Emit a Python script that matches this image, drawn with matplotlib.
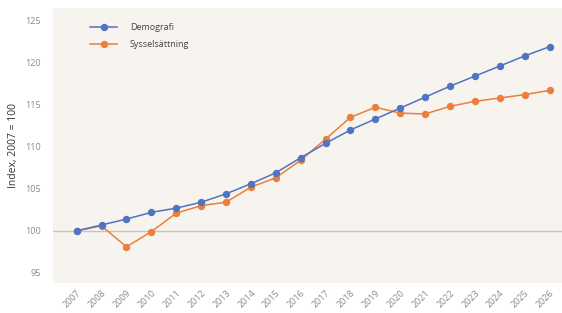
import matplotlib
matplotlib.use('Agg')
import matplotlib.pyplot as plt

years = list(range(2007, 2027))
demografi = [100.0, 100.7, 101.4, 102.2, 102.7, 103.4, 104.4, 105.6, 106.9, 108.7,
             110.4, 112.0, 113.3, 114.6, 115.9, 117.2, 118.4, 119.6, 120.8, 121.9]
syssel = [100.0, 100.6, 98.1, 99.9, 102.1, 103.0, 103.4, 105.2, 106.3, 108.4,
          110.9, 113.5, 114.7, 114.0, 113.9, 114.8, 115.4, 115.8, 116.2, 116.7]
yticks = [95, 100, 105, 110, 115, 120, 125]

plt.rcParams['font.family'] = ['Open Sans', 'DejaVu Sans']

fig = plt.figure(figsize=(5.62, 3.13), dpi=100)
ax = fig.add_axes([53 / 562, 30 / 313, 509 / 562, 275 / 313])
ax.set_facecolor('#f7f3ef')
for s in ax.spines.values():
    s.set_visible(False)

ax.axhline(100, color='#c9c4c0', lw=1.0, zorder=1)
ax.plot(years, demografi, color='#4f74c2', marker='o', ms=4.3, lw=1.1, label='Demografi', zorder=3)
ax.plot(years, syssel, color='#ec7f3a', marker='o', ms=4.3, lw=1.1, label='Sysselsättning', zorder=2)

ax.set_xlim(2006.05, 2026.5)
ax.set_ylim(93.8, 126.5)
ax.set_yticks(yticks)
ax.set_yticklabels([str(t) for t in yticks])
ax.set_xticks(years)
ax.set_xticklabels([str(y) for y in years], rotation=45, ha='right', rotation_mode='anchor')
ax.tick_params(axis='both', length=0, labelsize=6.5, colors='#8a8a8a')
ax.tick_params(axis='y', pad=9)
ax.tick_params(axis='x', pad=4)
ax.set_ylabel('Index, 2007 = 100', fontsize=7.5, color='#333333')
ax.yaxis.set_label_coords((19 - 53) / 509, 0.5)

leg = ax.legend(loc='upper left', bbox_to_anchor=(90 / 562, 1 - 23 / 313),
                bbox_transform=fig.transFigure, borderaxespad=0, borderpad=0,
                frameon=False, fontsize=6.5, handlelength=3.0, handletextpad=1.4,
                labelspacing=0.85)
for t in leg.get_texts():
    t.set_color('#444444')

fig.savefig('out.png', dpi=100, facecolor='white')
